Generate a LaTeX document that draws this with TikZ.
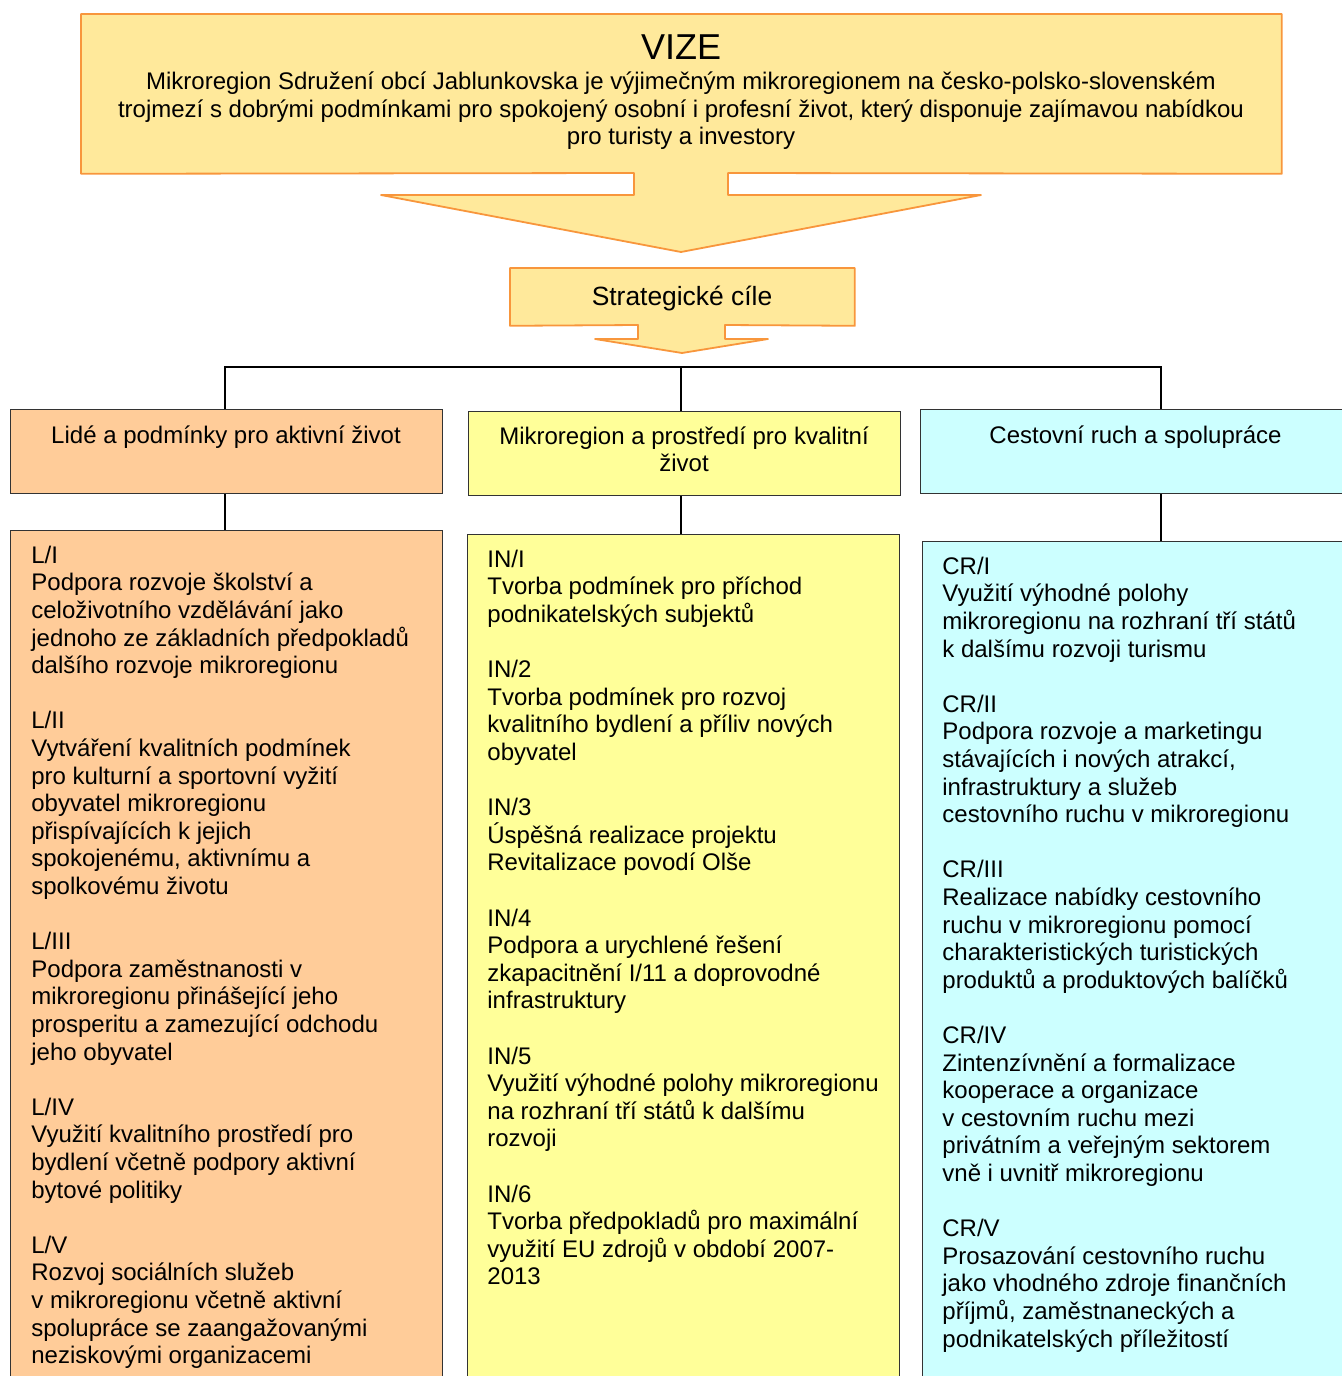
\documentclass[tikz,border=0pt]{standalone}
\usepackage{fontspec}
\setmainfont{Liberation Sans}
\usetikzlibrary{positioning}

\definecolor{vizefill}{RGB}{255,233,155}
\definecolor{vizeline}{RGB}{248,150,60}
\definecolor{lfill}{RGB}{255,204,153}
\definecolor{infill}{RGB}{255,255,153}
\definecolor{crfill}{RGB}{204,255,255}

\tikzset{
	ramec/.style={draw=black!80, line width=0.7pt, anchor=north west, inner sep=0pt},
	odkaz/.style={line width=1pt},
	popis/.style={font=\fontsize{12}{13.8}\selectfont, align=left, anchor=north west, inner sep=0pt, execute at begin node=\strut},
	nadpis/.style={font=\fontsize{12}{13.8}\selectfont, align=center, anchor=north, inner sep=0pt, execute at begin node=\strut}
}

\begin{document}
\begin{tikzpicture}[x=0.5pt,y=-0.5pt]
		\useasboundingbox (0,0) rectangle (1342,1376);
		% vize
		\node[anchor=north west, minimum width=600pt, minimum height=79.5pt, inner sep=0pt] (vize) at (81,14) {};
		\filldraw[fill=vizefill, draw=vizeline, line width=0.9pt, line join=round] (vize.north west) -- (vize.north east) -- (vize.south east) -- (728,173) -- (728,195) -- (981,195) -- (681,252) -- (381,195) -- (634,195) -- (634,173) -- (vize.south west) -- cycle;
		\node[font=\fontsize{18}{21}\selectfont, anchor=base, inner sep=0pt] (vizenadpis) at (681,59) {VIZE};
		\node[nadpis] (vizetext) at (681,71.5) {Mikroregion Sdružení obcí Jablunkovska je výjimečným mikroregionem na česko-polsko-slovenském\\ trojmezí s dobrými podmínkami pro spokojený osobní i profesní život, který disponuje zajímavou nabídkou\\ pro turisty a investory};
		% strategicke cile
		\node[anchor=north west, minimum width=172pt, minimum height=28.5pt, inner sep=0pt] (cile) at (510,268) {};
		\filldraw[fill=vizefill, draw=vizeline, line width=0.9pt, line join=round] (cile.north west) -- (cile.north east) -- (cile.south east) -- (725,325) -- (725,339) -- (768,339) -- (682,353) -- (595,339) -- (638,339) -- (638,325) -- (cile.south west) -- cycle;
		\node[font=\fontsize{13.2}{15}\selectfont, anchor=base, inner sep=0pt] at (682,305) {Strategické cíle};
		% oblasti
		\node[ramec, fill=lfill, minimum width=216pt, minimum height=42pt] (lcat) at (10,409) {};
		\node[ramec, fill=infill, minimum width=216pt, minimum height=42pt] (incat) at (468,411) {};
		\node[ramec, fill=crfill, minimum width=215.5pt, minimum height=42pt] (crcat) at (920,409) {};
		\node[nadpis] at (226,424) {Lidé a podmínky pro aktivní život};
		\node[nadpis] at (684,426) {Mikroregion a prostředí pro kvalitní\\život};
		\node[nadpis] at (1135.5,424) {Cestovní ruch a spolupráce};
		% cile
		\node[ramec, fill=lfill, minimum width=216pt, minimum height=430pt] (lcil) at (10,530) {};
		\node[ramec, fill=infill, minimum width=216pt, minimum height=428pt] (incil) at (467,534) {};
		\node[ramec, fill=crfill, minimum width=214.5pt, minimum height=424.5pt] (crcil) at (922,541) {};
		% spojnice
		\coordinate (hL) at (225,367);
		\coordinate (hIN) at (681,367);
		\coordinate (hCR) at (1161,367);
		\draw[odkaz] (lcat.north -| hL) -- (hL) -- (hCR) -- (crcat.north -| hCR);
		\draw[odkaz] (hIN) -- (incat.north -| hIN);
		\draw[odkaz] (lcat.south -| hL) -- (lcil.north -| hL);
		\draw[odkaz] (incat.south -| hIN) -- (incil.north -| hIN);
		\draw[odkaz] (crcat.south -| hCR) -- (crcil.north -| hCR);
		% texty
		\node[popis] (ltext) at (31,545.5) {L/I\\ Podpora rozvoje školství a\\ celoživotního vzdělávání jako\\ jednoho ze základních předpokladů\\ dalšího rozvoje mikroregionu\\[13.8pt]
			L/II\\ Vytváření kvalitních podmínek\\ pro kulturní a sportovní vyžití\\ obyvatel mikroregionu\\ přispívajících k jejich\\ spokojenému, aktivnímu a\\ spolkovému životu\\[13.8pt]
			L/III\\ Podpora zaměstnanosti v\\ mikroregionu přinášející jeho\\ prosperitu a zamezující odchodu\\ jeho obyvatel\\[13.8pt]
			L/IV\\ Využití kvalitního prostředí pro\\ bydlení včetně podpory aktivní\\ bytové politiky\\[13.8pt]
			L/V\\ Rozvoj sociálních služeb\\ v mikroregionu včetně aktivní\\ spolupráce se zaangažovanými\\ neziskovými organizacemi};
		\node[popis] (intext) at (487,549.5) {IN/I\\ Tvorba podmínek pro příchod\\ podnikatelských subjektů\\[13.8pt]
			IN/2\\ Tvorba podmínek pro rozvoj\\ kvalitního bydlení a příliv nových\\ obyvatel\\[13.8pt]
			IN/3\\ Úspěšná realizace projektu\\ Revitalizace povodí Olše\\[13.8pt]
			IN/4\\ Podpora a urychlené řešení\\ zkapacitnění I/11 a doprovodné\\ infrastruktury\\[13.8pt]
			IN/5\\ Využití výhodné polohy mikroregionu\\ na rozhraní tří států k dalšímu\\ rozvoji\\[13.8pt]
			IN/6\\ Tvorba předpokladů pro maximální\\ využití EU zdrojů v období 2007-\\ 2013};
		\node[popis] (crtext) at (942,556.5) {CR/I\\ Využití výhodné polohy\\ mikroregionu na rozhraní tří států\\ k dalšímu rozvoji turismu\\[13.8pt]
			CR/II\\ Podpora rozvoje a marketingu\\ stávajících i nových atrakcí,\\ infrastruktury a služeb\\ cestovního ruchu v mikroregionu\\[13.8pt]
			CR/III\\ Realizace nabídky cestovního\\ ruchu v mikroregionu pomocí\\ charakteristických turistických\\ produktů a produktových balíčků\\[13.8pt]
			CR/IV\\ Zintenzívnění a formalizace\\ kooperace a organizace\\ v cestovním ruchu mezi\\ privátním a veřejným sektorem\\ vně i uvnitř mikroregionu\\[13.8pt]
			CR/V\\ Prosazování cestovního ruchu\\ jako vhodného zdroje finančních\\ příjmů, zaměstnaneckých a\\ podnikatelských příležitostí};
\end{tikzpicture}
\end{document}
